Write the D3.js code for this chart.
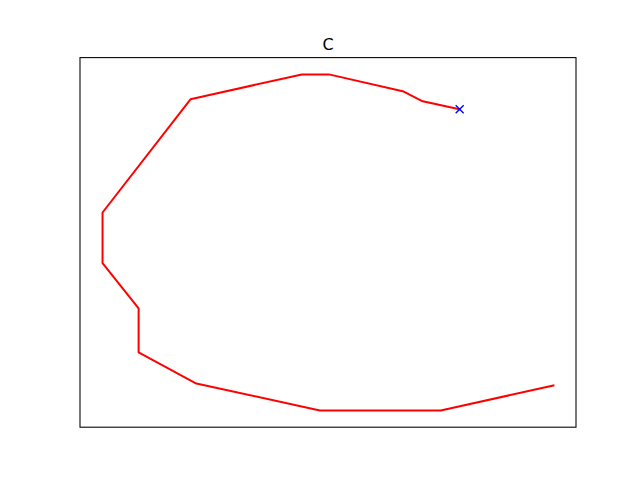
<!DOCTYPE html>
<html>
<head>
<meta charset="utf-8">
<script src="https://cdn.jsdelivr.net/npm/d3@7"></script>
<style>
  body { margin: 0; background: #fff; }
  svg { display: block; }
</style>
</head>
<body>
<script>
width  = 640
height = 480

// path of the letter, drawn from the lower right end round to the tip
var xs = [100, 75.0, 48.2, 20.8, 8.0, 8.0, 0, 0, 19.5, 44.2, 50.2, 66.8, 71.0, 79.2];
var ys = [7.4, 0, 0, 8.0, 17.3, 30.4, 43.8, 58.9, 92.6, 100, 100, 94.9, 92.0, 89.6];
var title = "C";

var box = {left: 80, right: 576, top: 57.6, bottom: 427.2};

// matplotlib style 5% margins
var x = d3.scaleLinear().domain([-5, 105]).range([box.left, box.right]);
var y = d3.scaleLinear().domain([-5, 105]).range([box.bottom, box.top]);

const svg = d3.select('body').append('svg')
  .attr('width', width)
  .attr('height', height);

var pts = xs.map((v, i) => [v, ys[i]]);

var line = d3.line()
  .x(d => x(d[0]))
  .y(d => y(d[1]));

svg.append("path")
  .datum(pts)
  .attr("d", line)
  .attr("fill", "none")
  .attr("stroke", "#ff0000")
  .attr("stroke-width", 2)
  .attr("stroke-linejoin", "round")
  .attr("stroke-linecap", "square");

// end marker
var last = pts[pts.length - 1];
var s = 4;
svg.append("path")
  .attr("d", `M${x(last[0]) - s},${y(last[1]) - s}L${x(last[0]) + s},${y(last[1]) + s}M${x(last[0]) - s},${y(last[1]) + s}L${x(last[0]) + s},${y(last[1]) - s}`)
  .attr("stroke", "#0000ff")
  .attr("stroke-width", 1.33)
  .attr("fill", "none");

// frame
svg.append("rect")
  .attr("x", box.left)
  .attr("y", box.top)
  .attr("width", box.right - box.left)
  .attr("height", box.bottom - box.top)
  .attr("fill", "none")
  .attr("stroke", "#000")
  .attr("stroke-width", 1.07);

svg.append("text")
  .attr("x", (box.left + box.right) / 2)
  .attr("y", box.top - 8)
  .attr("text-anchor", "middle")
  .attr("font-family", "DejaVu Sans")
  .attr("font-size", "16px")
  .attr("fill", "#000")
  .text(title);
</script>
</body>
</html>
